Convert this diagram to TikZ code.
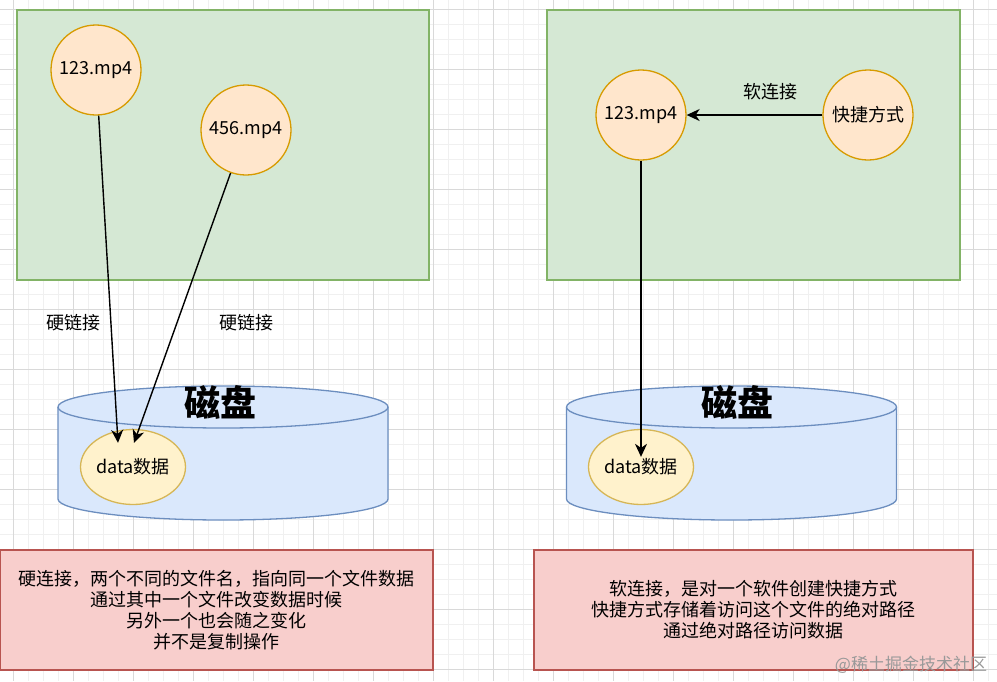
\documentclass[tikz,border=0pt]{standalone}
\usepackage{fontspec}
\setmainfont{Noto Sans CJK SC}
\usetikzlibrary{arrows.meta,positioning,shapes.geometric}

\definecolor{grpfill}{HTML}{D5E8D4}\definecolor{grpline}{HTML}{82B366}
\definecolor{filefill}{HTML}{FFE6CC}\definecolor{fileline}{HTML}{D79B00}
\definecolor{diskfill}{HTML}{DAE8FC}\definecolor{diskline}{HTML}{6C8EBF}
\definecolor{datafill}{HTML}{FFF2CC}\definecolor{dataline}{HTML}{D6B656}
\definecolor{notefill}{HTML}{F8CECC}\definecolor{noteline}{HTML}{B85450}

\begin{document}
\begin{tikzpicture}[x=1pt,y=-1pt,font=\fontsize{18}{21}\selectfont,
  grp/.style={draw=grpline,fill=grpfill,line width=1.3pt,inner sep=0pt},
  file/.style={circle,draw=fileline,fill=filefill,line width=1.3pt,minimum size=90,inner sep=0pt},
  data/.style={ellipse,draw=dataline,fill=datafill,line width=1.3pt,minimum width=105,minimum height=75,inner sep=0pt},
  disk/.style={draw=diskline,fill=diskfill,line width=1.3pt},
  note/.style={draw=noteline,fill=notefill,line width=1.3pt,align=center,minimum height=120,inner sep=0pt},
  ttl/.style={font=\fontsize{36}{40}\selectfont\bfseries},
  arr/.style={-{Stealth[length=13pt,width=12pt,inset=4pt]},line width=1.4pt}]
  % background grid
  \useasboundingbox (0,0) rectangle (997,681);
  \fill[white] (0,0) rectangle (997,681);
  \foreach \x in {-1.7,13.3,...,997} \draw[black!6] (\x,0) -- (\x,681);
  \foreach \y in {-5.7,9.3,...,681} \draw[black!6] (0,\y) -- (997,\y);
  \foreach \x in {13.3,73.3,...,997} \draw[black!15] (\x,0) -- (\x,681);
  \foreach \y in {9.3,69.3,...,681} \draw[black!15] (0,\y) -- (997,\y);
  % groups
  \node[grp,minimum width=412,minimum height=270](lgrp) at (223,145){};
  \node[grp,minimum width=413,minimum height=270](rgrp) at (753.5,145){};
  % disks
  \foreach \cx in {223,731.5}{
    \fill[diskfill] (\cx-165,407) -- (\cx-165,499) arc[start angle=180,end angle=0,x radius=165,y radius=21]
      -- (\cx+165,407) arc[start angle=0,end angle=-180,x radius=165,y radius=21] -- cycle;
    \draw[disk] (\cx-165,407) -- (\cx-165,499) arc[start angle=180,end angle=0,x radius=165,y radius=21] -- (\cx+165,407);
    \draw[disk] (\cx,407) ellipse[x radius=165,y radius=21];
  }
  \node[ttl](ldisk) at (220,402){磁盘};
  \node[ttl](rdisk) at (737,402){磁盘};
  % files
  \node[file](a1) at (96,70){123.mp4};
  \node[file](a2) at (246,130){456.mp4};
  \node[file](b1) at (641,115){123.mp4};
  \node[file](b2) at (868,115){快捷方式};
  \node[data](d1) at (133,467){data数据};
  \node[data](d2) at (641,467){data数据};
  \coordinate (t1) at ([shift={(-15,14)}]d1.north);
  \coordinate (t2) at ([shift={(1,14)}]d1.north);
  \coordinate (t3) at ([shift={(0,28)}]d2.north);
  \draw[arr](a1)--(t1);
  \draw[arr](a2)--(t2);
  \draw[arr](b1)--(t3);
  \draw[arr](b2)--(b1);
  \node(h1) at (73.5,323){硬链接};
  \node(h2) at (246,323){硬链接};
  \node(s1) at (770,92){软连接};
  % notes
  \node[note,minimum width=433](lnote) at (216.5,610){硬连接，两个不同的文件名，指向同一个文件数据\\通过其中一个文件改变数据时候\\另外一个也会随之变化\\并不是复制操作};
  \node[note,minimum width=439](rnote) at (753.5,610){软连接，是对一个软件创建快捷方式\\快捷方式存储着访问这个文件的绝对路径\\通过绝对路径访问数据};
  \node[text=black!40,font=\fontsize{17}{20}\selectfont](wm) at (911,665){@稀土掘金技术社区};
\end{tikzpicture}
\end{document}
